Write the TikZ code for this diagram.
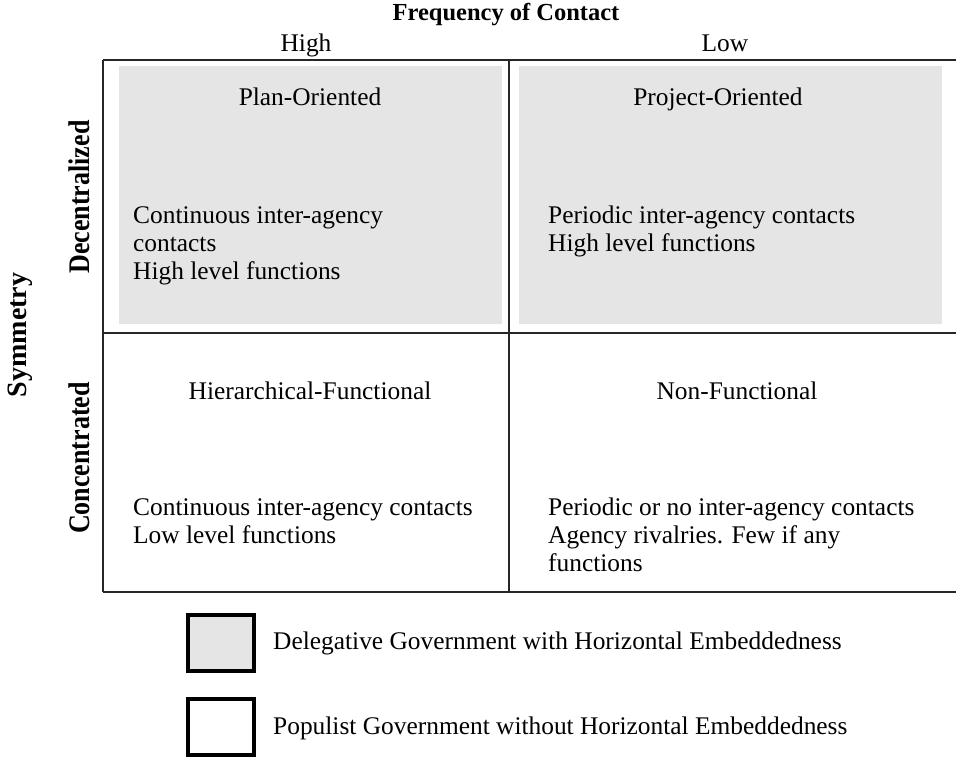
\documentclass[tikz,border=0pt]{standalone}
\usepackage{fontspec}
\setmainfont{Liberation Serif}
\definecolor{cellgray}{HTML}{E5E5E5}
\begin{document}
\begin{tikzpicture}[x=1pt,y=-1pt,
  txt/.style={font=\fontsize{25.4}{28}\selectfont, inner sep=0pt, align=left, anchor=base west},
  ttl/.style={font=\fontsize{25.4}{28}\selectfont, inner sep=0pt, anchor=base},
  bold/.style={font=\fontsize{24.5}{28}\selectfont\bfseries, inner sep=0pt},
  grid/.style={line width=2pt, black!85},
  shade/.style={fill=cellgray, draw=none},
  legbox/.style={line width=4pt, draw=black}]
\useasboundingbox (0,0) rectangle (956,761);
% shaded cells
\fill[shade] (119,66) rectangle (502,324);
\fill[shade] (519,66) rectangle (942,324);
% grid
\coordinate (tl) at (103,60);
\coordinate (tr) at (956,60);
\coordinate (ml) at (103,333);
\coordinate (mr) at (956,333);
\coordinate (bl) at (103,592);
\coordinate (br) at (956,592);
\coordinate (tm) at (509,60);
\coordinate (bm) at (509,592);
\draw[grid] (tl) -- (tr);
\draw[grid] (ml) -- (mr);
\draw[grid] (bl) -- (br);
\draw[grid] (tl) -- (bl);
\draw[grid] (tm) -- (bm);
% headings
\node[bold, anchor=base] (freq) at (506,20) {Frequency of Contact};
\node[ttl] (high) at (306,51) {High};
\node[ttl] (low) at (725,51) {Low};
\node[bold, rotate=90, font=\fontsize{28}{30}\selectfont\bfseries] (sym) at (20,335) {Symmetry};
\node[bold, rotate=90, font=\fontsize{26}{28}\selectfont\bfseries] (dec) at (79,197) {\scalebox{1}[1.15]{Decentralized}};
\node[bold, rotate=90, font=\fontsize{26}{28}\selectfont\bfseries] (con) at (79,458) {\scalebox{1}[1.15]{Concentrated}};
% cell titles
\node[ttl] (plan) at (310,105) {Plan-Oriented};
\node[ttl] (proj) at (718,105) {Project-Oriented};
\node[ttl] (hier) at (310,399) {Hierarchical-Functional};
\node[ttl] (nonf) at (737,399) {Non-Functional};
% cell texts (anchor at last baseline)
\node[txt] (t1) at (133,279) {Continuous inter-agency\\contacts\\High level functions};
\node[txt] (t2) at (548,251) {Periodic inter-agency contacts\\High level functions};
\node[txt] (t3) at (133,543) {Continuous inter-agency contacts\\Low level functions};
\node[txt] (t4) at (548,571) {Periodic or no inter-agency contacts\\Agency rivalries. Few if any\\functions};
% legend
\draw[legbox, fill=cellgray] (188,615) rectangle (254,671);
\draw[legbox, fill=white] (188,699) rectangle (254,755);
\node[txt] (l1) at (273,649) {Delegative Government with Horizontal Embeddedness};
\node[txt] (l2) at (273,734) {Populist Government without Horizontal Embeddedness};
\end{tikzpicture}
\end{document}
